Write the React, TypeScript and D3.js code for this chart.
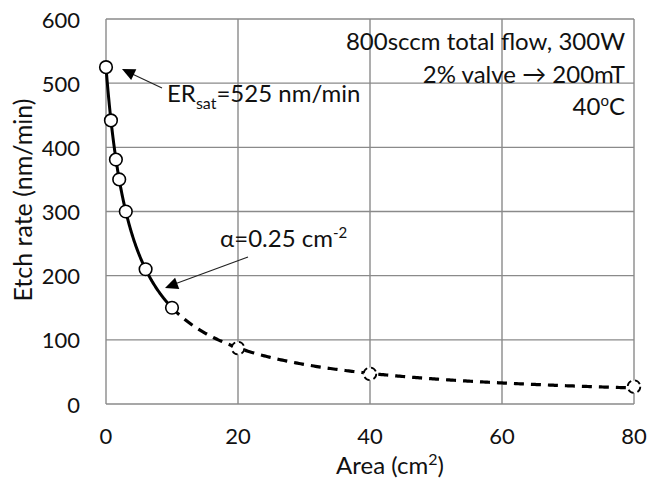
import React from "react";
import * as d3 from "d3";

// Measured etch rate vs. exposed area
const measuredArea = [0, 0.75, 1.5, 2, 3, 6, 10];
const measuredRate = [525, 442, 381, 350, 300, 210, 150];
// Points outside the fitted range (drawn with dashed outlines)
const extendedArea = [20, 40, 80];
const extendedRate = [87, 47, 27];

// Loading-model fit: ER = ERsat / (1 + alpha * A)
const erSat = 525;
const alpha = 0.25;

const xTicks = [0, 20, 40, 60, 80];
const yTicks = [0, 100, 200, 300, 400, 500, 600];

const W = 648;
const H = 480;
const plot = { left: 106, right: 634, top: 19, bottom: 404 };
const font = "Lato, 'Open Sans', sans-serif";
const gridColor = "#8a8a8a";

export default function App() {
  const x = d3.scaleLinear().domain([0, 80]).range([plot.left, plot.right]);
  const y = d3.scaleLinear().domain([0, 600]).range([plot.bottom, plot.top]);

  const fit = (a: number) => erSat / (1 + alpha * a);
  const line = d3
    .line<number>()
    .x((a) => x(a))
    .y((a) => y(fit(a)))
    .curve(d3.curveLinear);

  const solidDomain = d3.range(0, 10.0001, 0.05);
  const dashedDomain = d3.range(10, 80.0001, 0.25);

  const arrowHead = (x1: number, y1: number, x2: number, y2: number) => {
    const ang = Math.atan2(y2 - y1, x2 - x1);
    const len = 13;
    const half = 6;
    const bx = x2 - len * Math.cos(ang);
    const by = y2 - len * Math.sin(ang);
    const px = -Math.sin(ang) * half;
    const py = Math.cos(ang) * half;
    return `M${x2},${y2}L${bx + px},${by + py}L${bx - px},${by - py}Z`;
  };

  return (
    <svg
      width={W}
      height={H}
      style={{ position: "absolute", left: 0, top: 0, background: "#fff" }}
      fontFamily={font}
    >
      <rect width={W} height={H} fill="#fff" />
      {/* grid */}
      {xTicks.map((t) => (
        <line
          key={"gx" + t}
          x1={x(t)}
          x2={x(t)}
          y1={y(0)}
          y2={y(600)}
          stroke={gridColor}
          strokeWidth={1.4}
        />
      ))}
      {yTicks.map((t) => (
        <line
          key={"gy" + t}
          x1={x(0)}
          x2={x(80)}
          y1={y(t)}
          y2={y(t)}
          stroke={gridColor}
          strokeWidth={1.4}
        />
      ))}

      {/* tick labels */}
      {yTicks.map((t) => (
        <text
          key={"ty" + t}
          x={80}
          y={y(t)}
          textAnchor="end"
          dominantBaseline="central"
          fontSize={22}
          fill="#111"
        >
          {t}
        </text>
      ))}
      {xTicks.map((t) => (
        <text
          key={"tx" + t}
          x={x(t)}
          y={444}
          textAnchor="middle"
          fontSize={22}
          fill="#111"
        >
          {t}
        </text>
      ))}

      {/* axis titles */}
      <text x={390} y={474} textAnchor="middle" fontSize={24} fill="#111">
        Area (cm<tspan dy={-9} fontSize={16}>2</tspan>
        <tspan dy={9}>)</tspan>
      </text>
      <text
        transform={`translate(32,${200}) rotate(-90)`}
        textAnchor="middle"
        fontSize={25}
        fill="#111"
      >
        Etch rate (nm/min)
      </text>

      {/* fit curve */}
      <path d={line(solidDomain) || ""} fill="none" stroke="#000" strokeWidth={3} />
      <path
        d={line(dashedDomain) || ""}
        fill="none"
        stroke="#000"
        strokeWidth={3.2}
        strokeDasharray="10 7"
      />

      {/* markers */}
      {measuredArea.map((a, i) => (
        <circle
          key={"m" + i}
          cx={x(a)}
          cy={y(measuredRate[i])}
          r={6.3}
          fill="#fff"
          stroke="#000"
          strokeWidth={1.6}
        />
      ))}
      {extendedArea.map((a, i) => (
        <circle
          key={"e" + i}
          cx={x(a)}
          cy={y(extendedRate[i])}
          r={6.3}
          fill="#fff"
          stroke="#000"
          strokeWidth={1.8}
          strokeDasharray="6 4"
        />
      ))}

      {/* annotations */}
      <line x1={162} y1={88} x2={128} y2={72} stroke="#222" strokeWidth={1.2} />
      <path d={arrowHead(162, 88, 122, 69)} fill="#000" />
      <text x={167} y={102} fontSize={24} fill="#111">
        ER<tspan dy={7} fontSize={16}>sat</tspan>
        <tspan dy={-7}>=525 nm/min</tspan>
      </text>

      <line x1={248} y1={257} x2={172} y2={285} stroke="#222" strokeWidth={1.2} />
      <path d={arrowHead(248, 257, 165, 288)} fill="#000" />
      <text x={220} y={247} fontSize={24} fill="#111">
        α=0.25 cm<tspan dy={-9} fontSize={15}>-2</tspan>
      </text>

      <text x={625} y={50} textAnchor="end" fontSize={24} fill="#111">
        800sccm total flow, 300W
      </text>
      <text x={625} y={83} textAnchor="end" fontSize={24} fill="#111">
        2% valve → 200mT
      </text>
      <text x={625} y={115} textAnchor="end" fontSize={24} fill="#111">
        40<tspan dy={-9} fontSize={15}>o</tspan>
        <tspan dy={9}>C</tspan>
      </text>
    </svg>
  );
}
